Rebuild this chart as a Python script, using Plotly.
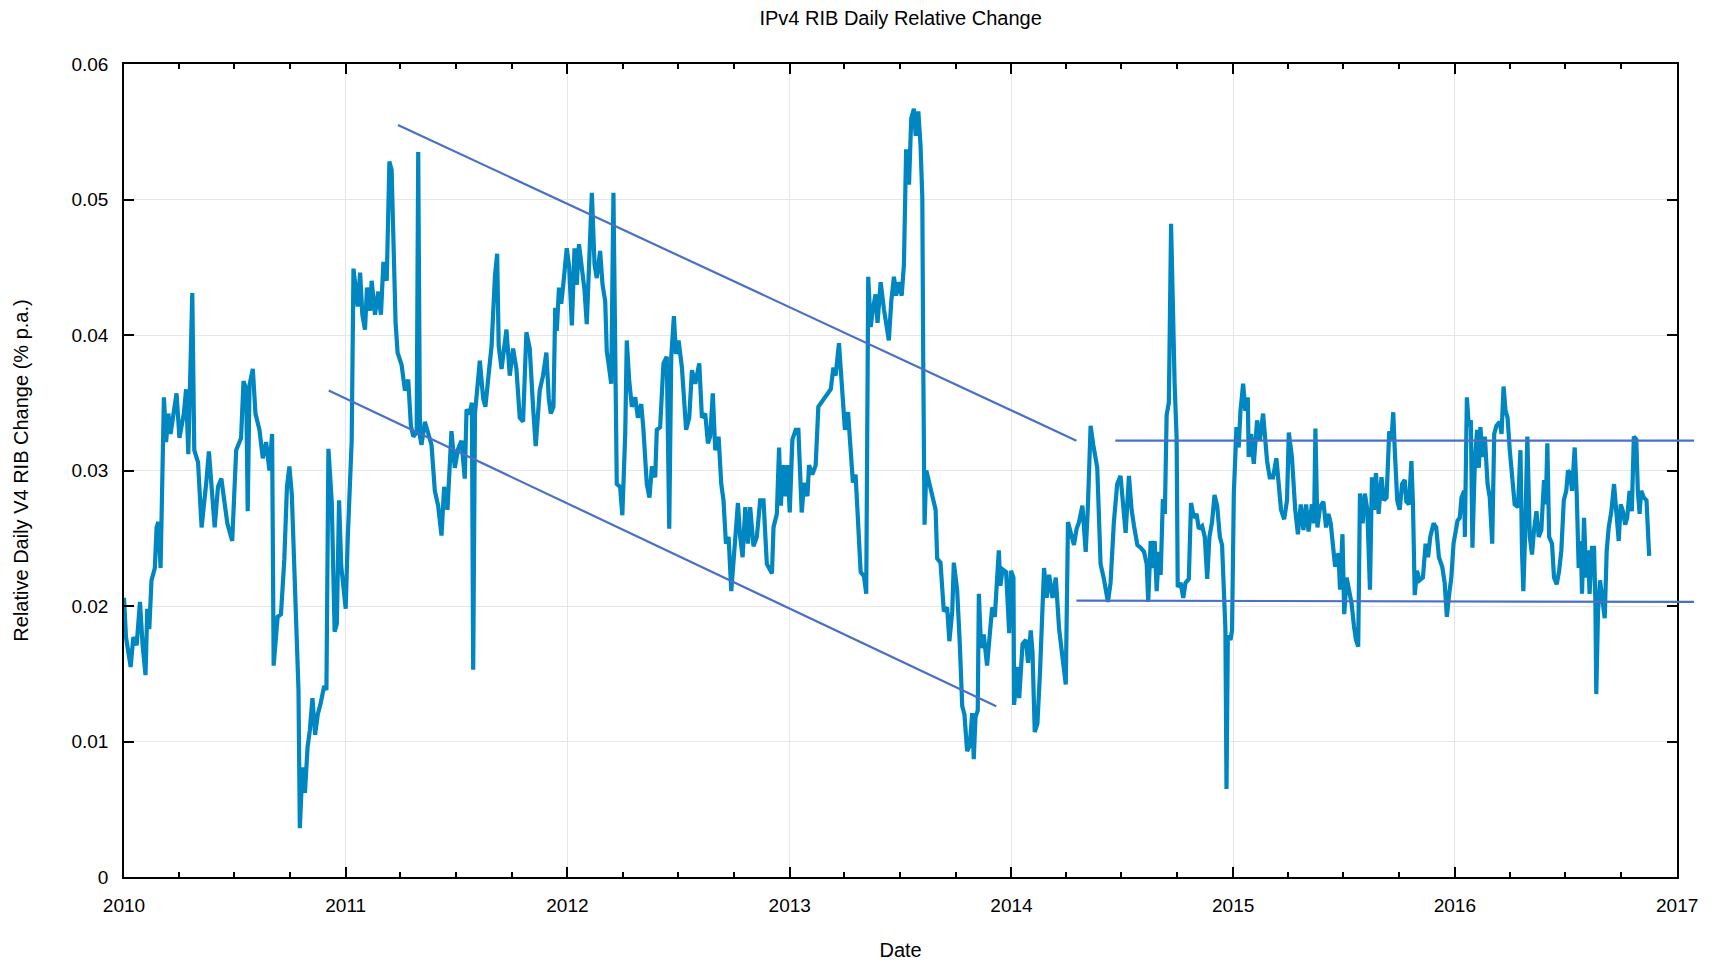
import pandas as pd
import plotly.graph_objects as go

# daily relative change: (fraction of year, value) per year
t2010 = [0.000, 0.009, 0.030, 0.042, 0.057, 0.072, 0.084, 0.097, 0.105, 0.114, 0.124, 0.139, 0.147, 0.155, 0.165,
         0.180, 0.190, 0.200, 0.210, 0.237, 0.250, 0.270, 0.280, 0.290, 0.308, 0.317, 0.334, 0.350, 0.371, 0.383,
         0.409, 0.424, 0.439, 0.454, 0.466, 0.488, 0.506, 0.528, 0.539, 0.551, 0.558, 0.566, 0.581, 0.593, 0.611,
         0.626, 0.641, 0.656, 0.668, 0.675, 0.693, 0.708, 0.723, 0.735, 0.746, 0.757, 0.768, 0.778, 0.787, 0.793,
         0.805, 0.816, 0.828, 0.838, 0.850, 0.862, 0.874, 0.888, 0.903, 0.913, 0.922, 0.937, 0.950, 0.960, 0.970,
         0.980]
v2010 = [0.0206, 0.0177, 0.0155, 0.0177, 0.0171, 0.0203, 0.0171, 0.0149, 0.0198, 0.0183, 0.0219, 0.0228, 0.0258,
         0.0262, 0.0228, 0.0354, 0.0321, 0.0342, 0.0327, 0.0357, 0.0324, 0.0342, 0.0360, 0.0312, 0.0431, 0.0315,
         0.0306, 0.0258, 0.0291, 0.0314, 0.0258, 0.0288, 0.0294, 0.0276, 0.0261, 0.0248, 0.0315, 0.0324, 0.0366,
         0.0360, 0.0270, 0.0363, 0.0375, 0.0342, 0.0330, 0.0309, 0.0321, 0.0300, 0.0327, 0.0156, 0.0192, 0.0194,
         0.0234, 0.0288, 0.0303, 0.0282, 0.0228, 0.0168, 0.0138, 0.0036, 0.0081, 0.0062, 0.0096, 0.0108, 0.0132,
         0.0105, 0.0120, 0.0129, 0.0141, 0.0138, 0.0316, 0.0277, 0.0181, 0.0187, 0.0278, 0.0229]

t2011 = [0.000, 0.009, 0.020, 0.027, 0.035, 0.045, 0.054, 0.065, 0.075, 0.087, 0.096, 0.110, 0.117, 0.132, 0.147,
         0.159, 0.170, 0.185, 0.197, 0.207, 0.218, 0.225, 0.234, 0.252, 0.267, 0.282, 0.294, 0.305, 0.320, 0.327,
         0.335, 0.342, 0.357, 0.375, 0.387, 0.402, 0.417, 0.432, 0.444, 0.459, 0.477, 0.492, 0.507, 0.522, 0.537,
         0.545, 0.560, 0.569, 0.575, 0.583, 0.605, 0.620, 0.630, 0.646, 0.658, 0.673, 0.683, 0.690, 0.703, 0.725,
         0.740, 0.755, 0.770, 0.785, 0.800, 0.815, 0.830, 0.845, 0.857, 0.875, 0.890, 0.905, 0.916, 0.925, 0.937,
         0.945, 0.952, 0.962, 0.972, 0.980, 0.997]
v2011 = [0.0198, 0.0249, 0.0291, 0.0322, 0.0449, 0.0432, 0.0421, 0.0446, 0.0415, 0.0404, 0.0435, 0.0418, 0.0440,
         0.0415, 0.0432, 0.0415, 0.0454, 0.0440, 0.0528, 0.0522, 0.0446, 0.0409, 0.0387, 0.0378, 0.0359, 0.0367,
         0.0333, 0.0325, 0.0328, 0.0535, 0.0325, 0.0319, 0.0336, 0.0325, 0.0319, 0.0285, 0.0274, 0.0252, 0.0288,
         0.0271, 0.0329, 0.0302, 0.0316, 0.0322, 0.0294, 0.0345, 0.0342, 0.0350, 0.0153, 0.0342, 0.0381, 0.0353,
         0.0347, 0.0373, 0.0392, 0.0443, 0.0460, 0.0392, 0.0375, 0.0404, 0.0370, 0.0390, 0.0375, 0.0339, 0.0336,
         0.0402, 0.0390, 0.0347, 0.0318, 0.0359, 0.0370, 0.0387, 0.0353, 0.0342, 0.0347, 0.0420, 0.0403, 0.0435,
         0.0423, 0.0435, 0.0464]

t2012 = [0.008, 0.020, 0.032, 0.042, 0.052, 0.065, 0.077, 0.087, 0.098, 0.110, 0.122, 0.132, 0.147, 0.158, 0.170,
         0.177, 0.185, 0.197, 0.207, 0.215, 0.222, 0.237, 0.247, 0.260, 0.267, 0.278, 0.290, 0.305, 0.317, 0.332,
         0.342, 0.357, 0.369, 0.380, 0.395, 0.402, 0.417, 0.432, 0.447, 0.458, 0.467, 0.479, 0.488, 0.500, 0.515,
         0.534, 0.548, 0.560, 0.575, 0.593, 0.605, 0.620, 0.632, 0.642, 0.654, 0.665, 0.680, 0.692, 0.702, 0.713,
         0.725, 0.737, 0.747, 0.755, 0.767, 0.777, 0.788, 0.800, 0.812, 0.822, 0.837, 0.852, 0.867, 0.882, 0.897,
         0.920, 0.927, 0.942, 0.952, 0.960, 0.970, 0.982, 0.990]
v2012 = [0.0450, 0.0407, 0.0464, 0.0437, 0.0467, 0.0452, 0.0433, 0.0408, 0.0462, 0.0505, 0.0452, 0.0442, 0.0462,
         0.0437, 0.0425, 0.0388, 0.0379, 0.0364, 0.0505, 0.0364, 0.0290, 0.0288, 0.0267, 0.0327, 0.0396, 0.0366,
         0.0347, 0.0354, 0.0339, 0.0349, 0.0330, 0.0290, 0.0280, 0.0303, 0.0295, 0.0330, 0.0332, 0.0379, 0.0384,
         0.0257, 0.0384, 0.0414, 0.0386, 0.0396, 0.0376, 0.0330, 0.0339, 0.0374, 0.0364, 0.0379, 0.0339, 0.0342,
         0.0320, 0.0325, 0.0357, 0.0315, 0.0325, 0.0290, 0.0278, 0.0246, 0.0251, 0.0211, 0.0236, 0.0253, 0.0276,
         0.0251, 0.0236, 0.0273, 0.0246, 0.0273, 0.0244, 0.0251, 0.0278, 0.0278, 0.0231, 0.0224, 0.0258, 0.0268,
         0.0317, 0.0274, 0.0304, 0.0281, 0.0304]

t2013 = [0.000, 0.012, 0.027, 0.039, 0.054, 0.065, 0.080, 0.087, 0.102, 0.117, 0.129, 0.185, 0.197, 0.207, 0.222,
         0.237, 0.249, 0.263, 0.275, 0.285, 0.297, 0.305, 0.320, 0.335, 0.345, 0.354, 0.365, 0.375, 0.387, 0.396,
         0.410, 0.425, 0.435, 0.447, 0.458, 0.470, 0.480, 0.492, 0.505, 0.515, 0.525, 0.538, 0.548, 0.560, 0.568,
         0.580, 0.590, 0.598, 0.602, 0.608, 0.616, 0.628, 0.643, 0.658, 0.665, 0.680, 0.695, 0.710, 0.720, 0.733,
         0.740, 0.755, 0.767, 0.778, 0.788, 0.800, 0.812, 0.823, 0.830, 0.838, 0.848, 0.853, 0.863, 0.875, 0.890,
         0.900, 0.913, 0.925, 0.935, 0.943, 0.950, 0.960, 0.976, 0.990, 0.998]
v2013 = [0.0269, 0.0323, 0.0330, 0.0330, 0.0269, 0.0291, 0.0281, 0.0304, 0.0297, 0.0304, 0.0347, 0.0360, 0.0376,
         0.0370, 0.0394, 0.0363, 0.0330, 0.0343, 0.0307, 0.0291, 0.0297, 0.0274, 0.0225, 0.0222, 0.0209, 0.0443,
         0.0406, 0.0419, 0.0430, 0.0409, 0.0439, 0.0419, 0.0406, 0.0396, 0.0425, 0.0443, 0.0429, 0.0439, 0.0429,
         0.0452, 0.0537, 0.0511, 0.0560, 0.0567, 0.0547, 0.0565, 0.0540, 0.0501, 0.0383, 0.0260, 0.0300, 0.0291,
         0.0281, 0.0271, 0.0235, 0.0232, 0.0196, 0.0199, 0.0174, 0.0196, 0.0232, 0.0212, 0.0172, 0.0126, 0.0120,
         0.0093, 0.0097, 0.0121, 0.0087, 0.0118, 0.0123, 0.0209, 0.0169, 0.0179, 0.0156, 0.0172, 0.0199, 0.0192,
         0.0215, 0.0241, 0.0215, 0.0227, 0.0225, 0.0180, 0.0226]

t2014 = [0.009, 0.012, 0.027, 0.035, 0.050, 0.065, 0.075, 0.087, 0.095, 0.105, 0.117, 0.129, 0.147, 0.159, 0.170,
         0.185, 0.200, 0.215, 0.230, 0.245, 0.255, 0.267, 0.282, 0.294, 0.305, 0.320, 0.335, 0.345, 0.357, 0.369,
         0.380, 0.387, 0.402, 0.417, 0.435, 0.447, 0.462, 0.477, 0.492, 0.505, 0.515, 0.530, 0.542, 0.553, 0.568,
         0.583, 0.598, 0.610, 0.617, 0.628, 0.640, 0.646, 0.655, 0.665, 0.673, 0.683, 0.692, 0.700, 0.710, 0.720,
         0.730, 0.736, 0.745, 0.750, 0.763, 0.775, 0.785, 0.800, 0.810, 0.823, 0.835, 0.845, 0.860, 0.872, 0.883,
         0.893, 0.905, 0.916, 0.928, 0.940, 0.950, 0.958, 0.965, 0.970, 0.976, 0.988, 0.995]
v2014 = [0.0221, 0.0127, 0.0155, 0.0132, 0.0172, 0.0175, 0.0158, 0.0182, 0.0166, 0.0107, 0.0113, 0.0152, 0.0228,
         0.0206, 0.0223, 0.0206, 0.0221, 0.0183, 0.0163, 0.0142, 0.0262, 0.0254, 0.0245, 0.0257, 0.0262, 0.0274,
         0.0240, 0.0274, 0.0333, 0.0319, 0.0305, 0.0302, 0.0231, 0.0220, 0.0203, 0.0217, 0.0262, 0.0290, 0.0296,
         0.0276, 0.0254, 0.0296, 0.0271, 0.0259, 0.0245, 0.0243, 0.0240, 0.0231, 0.0203, 0.0248, 0.0228, 0.0248,
         0.0211, 0.0240, 0.0223, 0.0279, 0.0268, 0.0341, 0.0350, 0.0482, 0.0386, 0.0364, 0.0324, 0.0214, 0.0217,
         0.0206, 0.0217, 0.0220, 0.0276, 0.0265, 0.0268, 0.0257, 0.0259, 0.0251, 0.0220, 0.0251, 0.0262, 0.0282,
         0.0274, 0.0251, 0.0245, 0.0200, 0.0183, 0.0065, 0.0178, 0.0175, 0.0182]

t2015 = [0.003, 0.015, 0.025, 0.033, 0.045, 0.055, 0.066, 0.070, 0.081, 0.093, 0.108, 0.120, 0.135, 0.145, 0.153,
         0.165, 0.180, 0.195, 0.205, 0.216, 0.230, 0.243, 0.251, 0.265, 0.280, 0.292, 0.305, 0.317, 0.329, 0.340,
         0.355, 0.365, 0.371, 0.380, 0.392, 0.407, 0.419, 0.430, 0.440, 0.449, 0.460, 0.475, 0.482, 0.493, 0.501,
         0.512, 0.524, 0.534, 0.545, 0.554, 0.564, 0.572, 0.584, 0.594, 0.605, 0.617, 0.626, 0.635, 0.644, 0.656,
         0.669, 0.680, 0.692, 0.704, 0.714, 0.722, 0.729, 0.740, 0.751, 0.762, 0.774, 0.781, 0.793, 0.804, 0.811,
         0.819, 0.829, 0.841, 0.856, 0.868, 0.879, 0.889, 0.904, 0.916, 0.928, 0.943, 0.954, 0.964, 0.973, 0.984,
         0.994]
v2015 = [0.0283, 0.0332, 0.0317, 0.0344, 0.0364, 0.0344, 0.0354, 0.0310, 0.0327, 0.0305, 0.0337, 0.0322, 0.0342,
         0.0322, 0.0307, 0.0295, 0.0295, 0.0309, 0.0290, 0.0271, 0.0264, 0.0278, 0.0328, 0.0310, 0.0271, 0.0253,
         0.0275, 0.0256, 0.0275, 0.0255, 0.0275, 0.0261, 0.0331, 0.0258, 0.0273, 0.0277, 0.0258, 0.0268, 0.0261,
         0.0246, 0.0229, 0.0239, 0.0212, 0.0253, 0.0194, 0.0221, 0.0212, 0.0202, 0.0185, 0.0175, 0.0170, 0.0283,
         0.0261, 0.0283, 0.0271, 0.0212, 0.0295, 0.0271, 0.0298, 0.0268, 0.0295, 0.0278, 0.0280, 0.0329, 0.0322,
         0.0343, 0.0315, 0.0278, 0.0271, 0.0290, 0.0293, 0.0277, 0.0275, 0.0307, 0.0275, 0.0208, 0.0226, 0.0219,
         0.0221, 0.0246, 0.0236, 0.0251, 0.0261, 0.0258, 0.0236, 0.0229, 0.0217, 0.0192, 0.0207, 0.0221, 0.0246]

t2016 = [0.006, 0.012, 0.022, 0.030, 0.042, 0.045, 0.054, 0.063, 0.072, 0.079, 0.090, 0.100, 0.108, 0.115, 0.124,
         0.135, 0.147, 0.157, 0.168, 0.177, 0.187, 0.202, 0.210, 0.219, 0.228, 0.237, 0.247, 0.257, 0.269, 0.284,
         0.295, 0.302, 0.308, 0.317, 0.326, 0.337, 0.347, 0.356, 0.367, 0.377, 0.389, 0.401, 0.409, 0.416, 0.424,
         0.437, 0.446, 0.458, 0.469, 0.479, 0.490, 0.501, 0.509, 0.518, 0.527, 0.539, 0.548, 0.557, 0.566, 0.572,
         0.581, 0.591, 0.599, 0.606, 0.617, 0.626, 0.632, 0.636, 0.644, 0.653, 0.662, 0.674, 0.683, 0.692, 0.704,
         0.716, 0.726, 0.737, 0.746, 0.756, 0.766, 0.775, 0.786, 0.796, 0.805, 0.816, 0.823, 0.831, 0.838, 0.850,
         0.862, 0.874]
v2016 = [0.0261, 0.0263, 0.0265, 0.0280, 0.0285, 0.0251, 0.0354, 0.0332, 0.0337, 0.0243, 0.0307, 0.0330, 0.0302,
         0.0332, 0.0310, 0.0325, 0.0290, 0.0280, 0.0246, 0.0327, 0.0333, 0.0336, 0.0327, 0.0362, 0.0344, 0.0339,
         0.0315, 0.0298, 0.0275, 0.0273, 0.0315, 0.0241, 0.0211, 0.0258, 0.0325, 0.0251, 0.0238, 0.0256, 0.0270,
         0.0251, 0.0256, 0.0293, 0.0275, 0.0320, 0.0251, 0.0246, 0.0221, 0.0216, 0.0226, 0.0241, 0.0278, 0.0285,
         0.0300, 0.0298, 0.0285, 0.0317, 0.0283, 0.0228, 0.0248, 0.0209, 0.0265, 0.0221, 0.0241, 0.0209, 0.0243,
         0.0243, 0.0204, 0.0135, 0.0196, 0.0219, 0.0206, 0.0191, 0.0241, 0.0258, 0.0270, 0.0290, 0.0270, 0.0248,
         0.0275, 0.0270, 0.0260, 0.0265, 0.0285, 0.0270, 0.0325, 0.0323, 0.0285, 0.0268, 0.0285, 0.0280, 0.0278,
         0.0237]

# hand-drawn trend lines
trend_down_hi_t = ["2011-03-28", "2014-04-18"]
trend_down_hi_v = [0.0555, 0.0322]
trend_down_lo_t = ["2010-12-04", "2013-12-07"]
trend_down_lo_v = [0.0359, 0.0126]
trend_flat_hi_t = ["2014-06-21", "2017-02-03"]
trend_flat_hi_v = [0.0322, 0.0322]
trend_flat_lo_t = ["2014-04-18", "2017-02-03"]
trend_flat_lo_v = [0.0204, 0.0203]

years = {2010: (t2010, v2010), 2011: (t2011, v2011), 2012: (t2012, v2012), 2013: (t2013, v2013),
         2014: (t2014, v2014), 2015: (t2015, v2015), 2016: (t2016, v2016)}

dates, values = [], []
for yr, (ts, vs) in years.items():
    start = pd.Timestamp(f"{yr}-01-01")
    ndays = (pd.Timestamp(f"{yr + 1}-01-01") - start).days
    dates += [start + pd.Timedelta(days=f * ndays) for f in ts]
    values += vs

FONT = "Liberation Sans, Arial, Helvetica, sans-serif"
DATA_COLOR = "#0086c0"
TREND_COLOR = "#4a70c6"

W, H = 1719, 962
ML, MR, MT, MB = 116, 16, 56, 89

# main axes stop at 2017, the trend lines run a little past the right frame,
# so they sit on a hidden axis pair that spans the whole width
x_start, x_end = pd.Timestamp("2010-01-01"), pd.Timestamp("2017-01-01")
main_frac = 1570 / 1587
x2_end = x_start + (x_end - x_start) / main_frac

fig = go.Figure()
fig.add_trace(go.Scatter(x=dates, y=values, mode="lines",
                         line=dict(color=DATA_COLOR, width=4.2), showlegend=False))

for ts, vs in [(trend_down_hi_t, trend_down_hi_v), (trend_down_lo_t, trend_down_lo_v),
               (trend_flat_hi_t, trend_flat_hi_v), (trend_flat_lo_t, trend_flat_lo_v)]:
    fig.add_trace(go.Scatter(x=ts, y=vs, mode="lines", xaxis="x2", yaxis="y2",
                             line=dict(color=TREND_COLOR, width=2.2), showlegend=False))

tickfont = dict(family=FONT, size=19, color="black")
titlefont = dict(family=FONT, size=20, color="black")
fig.update_layout(
    width=W, height=H,
    margin=dict(l=ML, r=MR, t=MT, b=MB),
    paper_bgcolor="white", plot_bgcolor="rgba(0,0,0,0)",
    font=dict(family=FONT, color="black"),
    title=dict(text="IPv4 RIB Daily Relative Change", x=main_frac / 2, xref="paper", xanchor="center",
               y=1 - 10 / H, yref="container", yanchor="middle", font=titlefont),
    xaxis=dict(type="date", range=[x_start, x_end], domain=[0, main_frac],
               tick0="2010-01-01", dtick="M12", tickformat="%Y", tickfont=tickfont,
               ticks="inside", ticklen=10, tickwidth=1.5, tickcolor="black", ticklabelstandoff=10,
               minor=dict(dtick="M3", ticks="inside", ticklen=5, tickwidth=1.5, tickcolor="black", showgrid=False),
               showline=True, linecolor="black", linewidth=1.5, mirror="ticks",
               showgrid=True, gridcolor="#e6e6e6", gridwidth=1, zeroline=False,
               title=dict(text="Date", font=titlefont, standoff=28)),
    yaxis=dict(range=[0, 0.06], dtick=0.01, tick0=0, tickfont=tickfont,
               ticks="inside", ticklen=10, tickwidth=1.5, tickcolor="black", ticklabelstandoff=10,
               showline=True, linecolor="black", linewidth=1.5, mirror="ticks",
               showgrid=True, gridcolor="#e6e6e6", gridwidth=1, zeroline=False,
               title=dict(text="Relative Daily V4 RIB Change (% p.a.)", font=titlefont, standoff=37)),
    xaxis2=dict(type="date", range=[x_start, x2_end], domain=[0, 1], anchor="y2", visible=False),
    yaxis2=dict(range=[0, 0.06], overlaying="y", anchor="x2", visible=False),
)

fig.write_html("out.html")
